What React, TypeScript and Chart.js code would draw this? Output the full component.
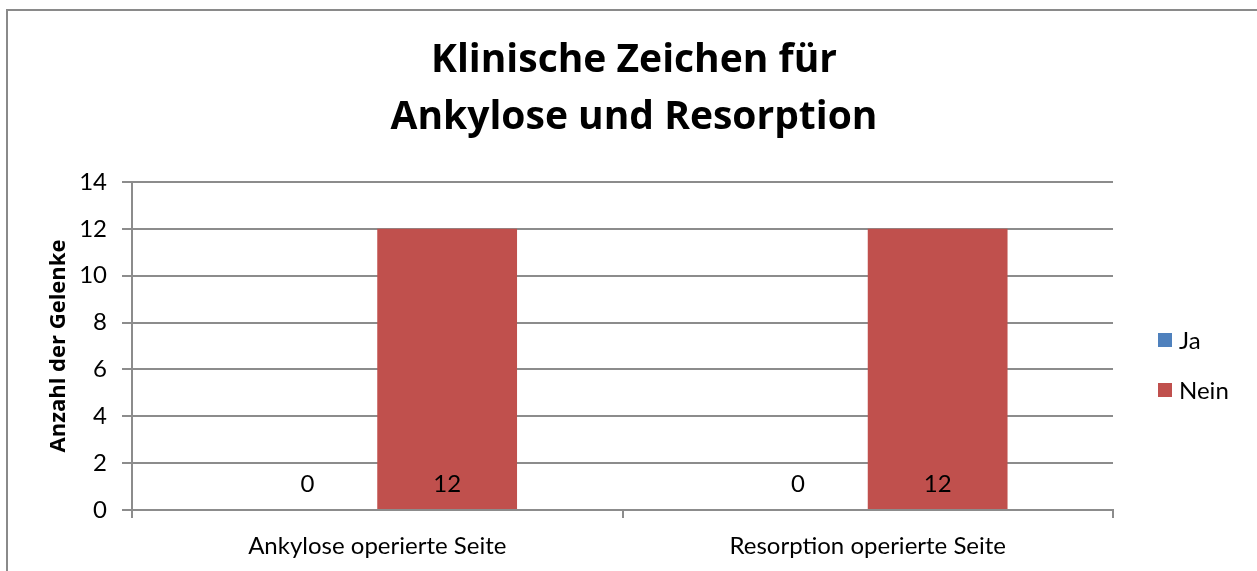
import React, { useEffect, useRef } from "react";
import { Chart, registerables } from "chart.js";

Chart.register(...registerables);

const titleLines = ["Klinische Zeichen für", "Ankylose und Resorption"];
const categories = ["Ankylose operierte Seite", "Resorption operierte Seite"];
const seriesNames = ["Ja", "Nein"];
const jaValues = [0, 0];
const neinValues = [12, 12];
const yMin = 0;
const yMax = 14;
const yStep = 2;
const yAxisTitle = "Anzahl der Gelenke";

const FONT = "Lato, 'Open Sans', sans-serif";
const BOLD_FONT = "'Open Sans', Lato, sans-serif";
const GRID = "#8c8c8c";
const BLUE = "#4F81BD";
const RED = "#C0504D";

const framePlugin = {
  id: "frame",
  beforeDraw(chart: any) {
    const ctx = chart.ctx;
    ctx.save();
    ctx.fillStyle = "#ffffff";
    ctx.fillRect(0, 0, chart.width, chart.height);
    ctx.strokeStyle = "#8a8a8a";
    ctx.lineWidth = 2;
    ctx.strokeRect(7, 10, chart.width + 20, chart.height + 20);
    ctx.restore();
  },
};

const titlePlugin = {
  id: "bigTitle",
  afterDraw(chart: any) {
    const ctx = chart.ctx;
    ctx.save();
    ctx.font = `bold 39px ${BOLD_FONT}`;
    ctx.fillStyle = "#000";
    ctx.textAlign = "center";
    ctx.textBaseline = "middle";
    titleLines.forEach((line, i) => {
      ctx.fillText(line, 634, 61 + i * 57);
    });
    ctx.restore();
  },
};

const valueLabelPlugin = {
  id: "valueLabels",
  afterDatasetsDraw(chart: any) {
    const ctx = chart.ctx;
    const yScale = chart.scales.y;
    const base = yScale.getPixelForValue(0);
    ctx.save();
    ctx.font = `24px ${FONT}`;
    ctx.fillStyle = "#000";
    ctx.textAlign = "center";
    ctx.textBaseline = "middle";
    chart.data.datasets.forEach((ds: any, i: number) => {
      const meta = chart.getDatasetMeta(i);
      meta.data.forEach((el: any, j: number) => {
        ctx.fillText(String(ds.data[j]), el.x, base - 26);
      });
    });
    ctx.restore();
  },
};

const legendPlugin = {
  id: "sideLegend",
  afterDraw(chart: any) {
    const ctx = chart.ctx;
    ctx.save();
    ctx.font = `24px ${FONT}`;
    ctx.textAlign = "left";
    ctx.textBaseline = "middle";
    chart.data.datasets.forEach((ds: any, i: number) => {
      const cy = 340 + i * 50;
      ctx.fillStyle = ds.backgroundColor;
      ctx.fillRect(1158, cy - 7, 14, 14);
      ctx.fillStyle = "#000";
      ctx.fillText(ds.label, 1179, cy + 1);
    });
    ctx.restore();
  },
};

export default function App() {
  const ref = useRef<HTMLCanvasElement | null>(null);
  useEffect(() => {
    if (!ref.current) return;
    const chart = new Chart(ref.current, {
      type: "bar",
      data: {
        labels: categories,
        datasets: [
          { label: seriesNames[0], data: jaValues, backgroundColor: BLUE, categoryPercentage: 0.57, barPercentage: 1 },
          { label: seriesNames[1], data: neinValues, backgroundColor: RED, categoryPercentage: 0.57, barPercentage: 1 },
        ],
      },
      options: {
        responsive: false,
        animation: false,
        layout: { padding: { left: 46, right: 144, top: 182, bottom: 0 } },
        plugins: {
          title: { display: false },
          legend: { display: false },
          tooltip: { enabled: false },
        },
        scales: {
          x: {
            afterFit(scale: any) {
              scale.height = 61;
            },
            grid: { display: true, offset: true, drawOnChartArea: false, color: GRID, lineWidth: 2, tickLength: 8 },
            border: { color: GRID, width: 2 },
            ticks: { color: "#000", font: { family: FONT, size: 24 }, padding: 14 },
          },
          y: {
            afterFit(scale: any) {
              scale.width = 86;
            },
            min: yMin,
            max: yMax,
            ticks: { stepSize: yStep, color: "#000", font: { family: FONT, size: 24 }, padding: 15 },
            grid: { color: GRID, lineWidth: 2, tickLength: 10 },
            border: { color: GRID, width: 2 },
            title: {
              display: true,
              text: yAxisTitle,
              color: "#000",
              font: { family: BOLD_FONT, size: 22, weight: "bold" },
              padding: 0,
            },
          },
        },
      },
      plugins: [framePlugin, valueLabelPlugin, legendPlugin, titlePlugin],
    });
    return () => chart.destroy();
  }, []);
  return (
    <div style={{ position: "fixed", left: 0, top: 0, width: 1257, height: 571 }}>
      <canvas ref={ref} width={1257} height={571} />
    </div>
  );
}
